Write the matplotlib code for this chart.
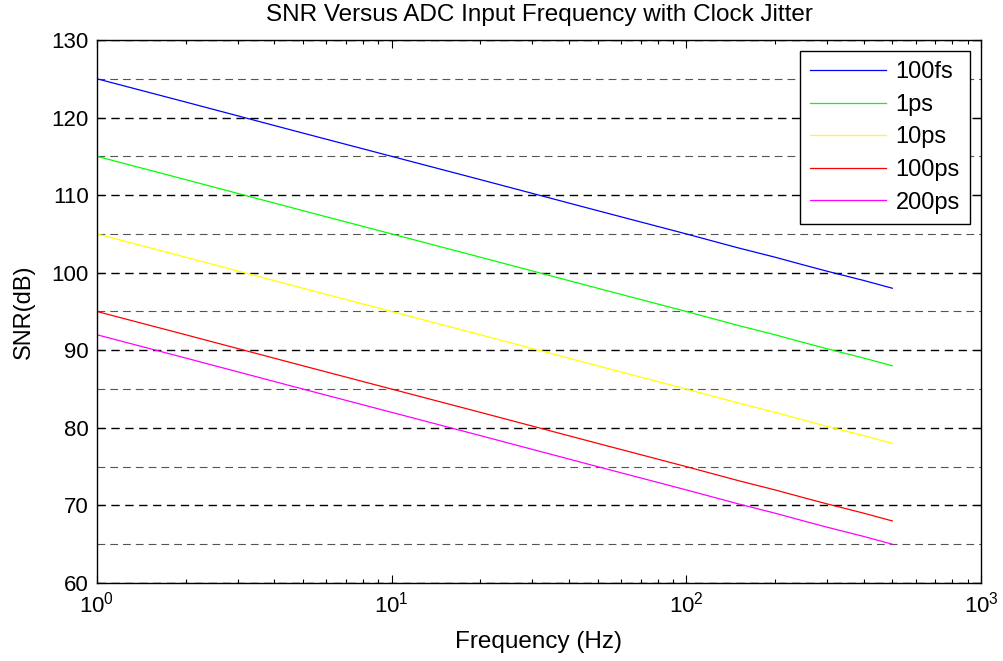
import matplotlib
matplotlib.use("Agg")
import matplotlib.pyplot as plt
from matplotlib.ticker import MultipleLocator, LogLocator, NullFormatter

freq = [1, 2, 5, 10, 20, 50, 100, 150, 200, 250, 300, 400, 500]
snr_100fs = [125, 122, 118, 115, 112, 108, 105, 103.2, 102, 101, 100.2, 99, 98]
snr_1ps = [115, 112, 108, 105, 102, 98, 95, 93.2, 92, 91, 90.2, 89, 88]
snr_10ps = [105, 102, 98, 95, 92, 88, 85, 83.2, 82, 81, 80.2, 79, 78]
snr_100ps = [95, 92, 88, 85, 82, 78, 75, 73.2, 72, 71, 70.2, 69, 68]
snr_200ps = [92, 89, 85, 82, 79, 75, 72, 70.2, 69, 68, 67.2, 66, 65]
labels = ["100fs", "1ps", "10ps", "100ps", "200ps"]
colors = ["#0000ff", "#00ff00", "#ffff00", "#ff0000", "#ff00ff"]

plt.rcParams['font.family'] = ['Liberation Sans', 'DejaVu Sans']

fig = plt.figure(figsize=(10.04, 6.61), dpi=100)
ax = fig.add_axes([97/1004, 1-583/661, (981-97)/1004, (583-40)/661])

for y, lab, c in zip([snr_100fs, snr_1ps, snr_10ps, snr_100ps, snr_200ps], labels, colors):
    ax.plot(freq, y, color=c, lw=0.9, label=lab)

ax.set_xscale('log')
ax.set_xlim(1, 1000)
ax.set_ylim(60, 130)
ax.yaxis.set_major_locator(MultipleLocator(10))
ax.yaxis.set_minor_locator(MultipleLocator(5))
ax.xaxis.set_major_locator(LogLocator(base=10, numticks=10))
ax.xaxis.set_minor_locator(LogLocator(base=10, subs=range(2, 10), numticks=20))
ax.xaxis.set_minor_formatter(NullFormatter())

ax.grid(True, which='major', axis='y', color='black', lw=1.0, linestyle=(0, (6, 4)))
ax.grid(True, which='minor', axis='y', color='#555555', lw=0.8, linestyle=(0, (7, 4.5)))
ax.set_axisbelow(True)

ax.tick_params(which='both', direction='in', top=True, right=True, labelsize=16, width=0.8)
ax.tick_params(which='major', length=6)
ax.tick_params(axis='x', which='minor', length=3)
ax.tick_params(axis='y', which='minor', length=0)
ax.tick_params(axis='x', pad=6)
ax.tick_params(axis='y', pad=6)
for s in ax.spines.values():
    s.set_linewidth(1.0)

ax.set_title("SNR Versus ADC Input Frequency with Clock Jitter", fontsize=17.5, pad=14)
ax.set_xlabel("Frequency (Hz)", fontsize=17.5, labelpad=10)
ax.set_ylabel("SNR(dB)", fontsize=17, labelpad=12)

leg = ax.legend(loc='upper right', fontsize=17, frameon=True, fancybox=False,
                edgecolor='black', framealpha=1, handlelength=3.2,
                borderaxespad=0.45, labelspacing=0.45, handletextpad=0.4,
                borderpad=0.45)
leg.get_frame().set_linewidth(1.0)

fig.savefig("out.png", dpi=100)
